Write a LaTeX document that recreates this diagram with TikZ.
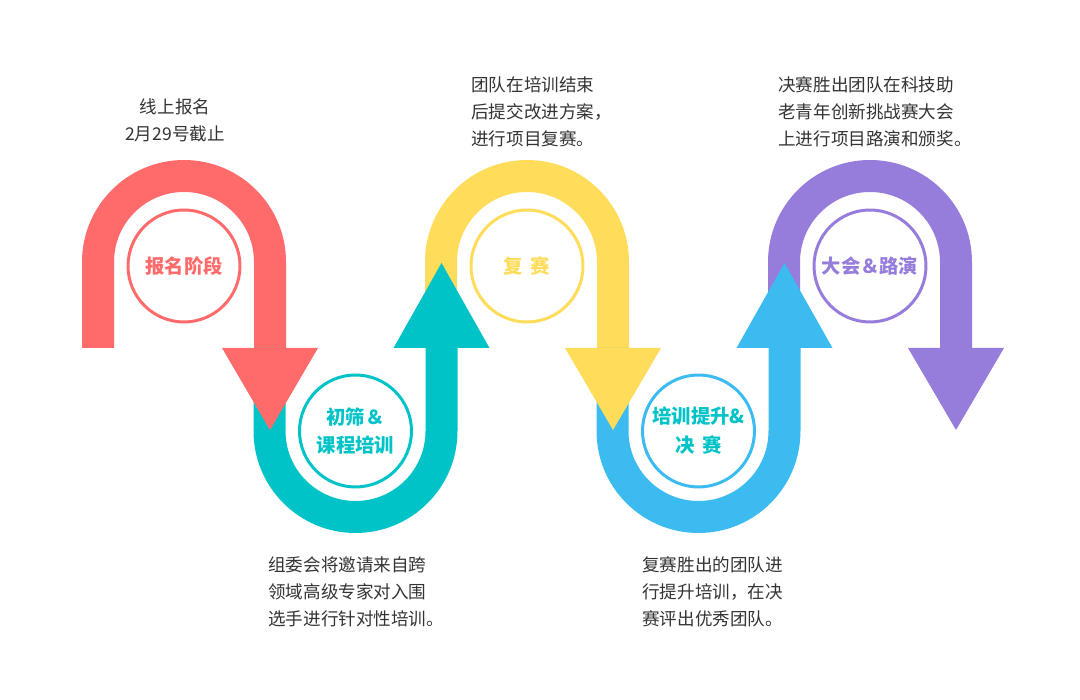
\documentclass[tikz,border=0pt]{standalone}
\usepackage{fontspec}
\setmainfont{Noto Sans CJK SC}
\usetikzlibrary{positioning}
\definecolor{coral}{HTML}{FF6B6B}
\definecolor{aqua}{HTML}{00C3C8}
\definecolor{sun}{HTML}{FFDC5A}
\definecolor{sky}{HTML}{3BBBF0}
\definecolor{lilac}{HTML}{967DDB}
\definecolor{ink}{HTML}{333333}

\begin{document}
\begin{tikzpicture}[x=0.02cm,y=0.02cm,
  stage/.style={circle,draw,line width=1.7pt,minimum size=2.24cm,inner sep=0pt,align=center,
    font=\fontsize{11}{16.4}\selectfont\bfseries},
  note/.style={align=left,anchor=west,text=ink,inner sep=0pt,font=\fontsize{10}{15.3}\selectfont}]
\useasboundingbox (0,0) rectangle (1080,700);
% arches over the top (red, yellow, purple)
\foreach \cx/\col in {184/coral,527/sun,870/lilac}{
  \fill[\col] ({\cx-102},352) -- ({\cx-102},438) arc (180:0:102) -- ({\cx+102},352)
    -- ({\cx+70},352) -- ({\cx+70},438) arc (0:180:70) -- ({\cx-70},352) -- cycle;}
% bends underneath (teal, blue)
\foreach \cu/\col in {355.5/aqua,698.5/sky}{
  \fill[\col] ({\cu-102},352) -- ({\cu-102},269) arc (180:360:102) -- ({\cu+102},352)
    -- ({\cu+70},352) -- ({\cu+70},269) arc (360:180:70) -- ({\cu-70},352) -- cycle;}
% arrow heads, drawn last so they lie over the next band
\foreach \cx/\col in {184/coral,527/sun,870/lilac}{
  \fill[\col] ({\cx+38},352) -- ({\cx+134},352) -- ({\cx+86},270) -- cycle;}
\foreach \cu/\col in {355.5/aqua,698.5/sky}{
  \fill[\col] ({\cu+38},352) -- ({\cu+134},352) -- ({\cu+86},437) -- cycle;}
% stage circles
\node[stage,draw=coral,text=coral] (signup) at (184,434) {报名阶段};
\node[stage,draw=aqua,text=aqua] (screen) at (355.5,269) {初筛＆\\课程培训};
\node[stage,draw=sun,text=sun] (semi) at (527,434) {复\hspace{0.4em}赛};
\node[stage,draw=sky,text=aqua] (final) at (698.5,269) {培训提升\&\\决\hspace{0.4em}赛};
\node[stage,draw=lilac,text=lilac] (show) at (870,434) {大会＆路演};
% notes
\node[note,align=center,anchor=center] (signupnote) at (175,580) {线上报名\\2月29号截止};
\node[note] (seminote) at (471,588) {团队在培训结束\\后提交改进方案，\\进行项目复赛。};
\node[note] (shownote) at (778,588) {决赛胜出团队在科技助\\老青年创新挑战赛大会\\上进行项目路演和颁奖。};
\node[note] (screennote) at (268,108) {组委会将邀请来自跨\\领域高级专家对入围\\选手进行针对性培训。};
\node[note] (finalnote) at (642,108) {复赛胜出的团队进\\行提升培训，在决\\赛评出优秀团队。};
\end{tikzpicture}
\end{document}
